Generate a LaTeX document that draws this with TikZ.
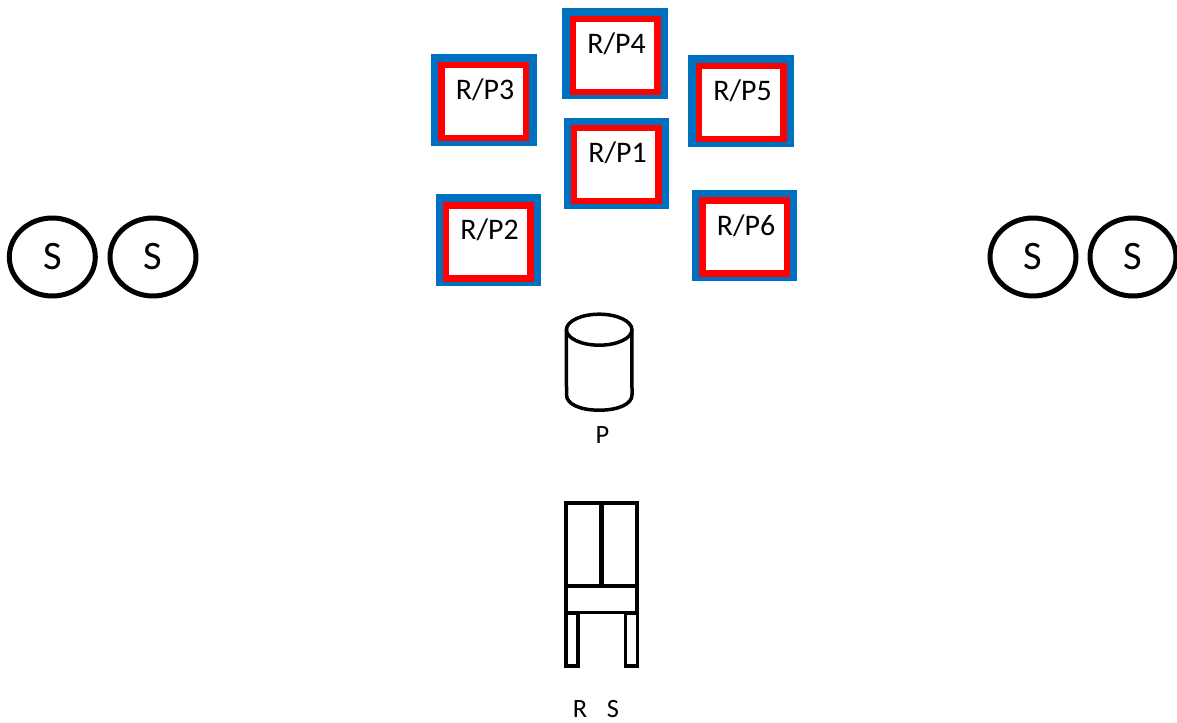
\documentclass[tikz,border=0pt]{standalone}
\usepackage{fontspec}
\setmainfont{Carlito}
\usetikzlibrary{positioning,shapes.geometric}
\definecolor{rpblue}{RGB}{0,112,192}

\tikzset{
	bluebox/.style={rectangle,fill=rpblue,minimum width=2.11cm,minimum height=1.83cm,inner sep=0pt},
	redbox/.style={rectangle,draw=red,fill=white,line width=0.13cm,minimum width=1.69cm,minimum height=1.46cm,inner sep=0pt,font=\fontsize{17}{20}\selectfont,text height=11pt,text depth=13.4pt,execute at begin node=\hspace{1.5pt}},
	sball/.style={ellipse,draw,line width=0.1cm,minimum width=1.72cm,minimum height=1.56cm,inner sep=0pt,font=\fontsize{23}{26}\selectfont},
	part/.style={rectangle,draw,line width=0.07cm,inner sep=0pt},
	caption/.style={inner sep=0pt,font=\fontsize{15}{18}\selectfont}
}

\begin{document}
\begin{tikzpicture}[x=0.02cm,y=-0.02cm]
		\useasboundingbox (0,0) rectangle (1177,723);

		\node[bluebox] (blue1) at (616.5,163.3) {};
		\node[redbox] (rp1) at (616.2,164.5) {R/P1};
		\node[bluebox] (blue2) at (488.5,240.2) {};
		\node[redbox] (rp2) at (488.2,241.8) {R/P2};
		\node[bluebox] (blue3) at (483.8,100.2) {};
		\node[redbox] (rp3) at (483.8,101.5) {R/P3};
		\node[bluebox] (blue4) at (615,53.7) {};
		\node[redbox] (rp4) at (615.2,55.5) {R/P4};
		\node[bluebox] (blue5) at (740.8,101) {};
		\node[redbox] (rp5) at (741.2,102.5) {R/P5};
		\node[bluebox] (blue6) at (744.7,235.5) {};
		\node[redbox] (rp6) at (744.7,237.2) {R/P6};

		\node[sball] (s1) at (52.3,257) {S};
		\node[sball] (s2) at (153,257) {S};
		\node[sball] (s3) at (1033,257) {S};
		\node[sball] (s4) at (1133,257) {S};

		\node[ellipse,draw,line width=0.07cm,outer sep=0pt,minimum width=1.31cm,minimum height=0.62cm,inner sep=0pt] (pump) at (599.2,329.7) {};
		\draw[line width=0.07cm] (pump.west) -- (566.5,395) .. controls (566.5,404) and (580,410.2) .. (599.2,410.2) .. controls (618.4,410.2) and (632,404) .. (632,395) -- (pump.east);
		\node[caption] (plabel) at (602.5,435) {P};

		\node[part,minimum width=1.43cm,minimum height=1.66cm] (tank) at (601.5,544.5) {};
		\node[part,minimum width=1.43cm,minimum height=0.54cm] (bar) at (601.5,599) {};
		\node[part,minimum width=0.24cm,minimum height=1.06cm] (legl) at (572.2,639.5) {};
		\node[part,minimum width=0.24cm,minimum height=1.06cm] (legr) at (631.5,639.5) {};
		\draw[line width=0.11cm] (tank.north) -- (tank.south);

		\node[caption] (rlabel) at (580,709.5) {R};
		\node[caption] (slabel) at (613,709.5) {S};
	\end{tikzpicture}
\end{document}
